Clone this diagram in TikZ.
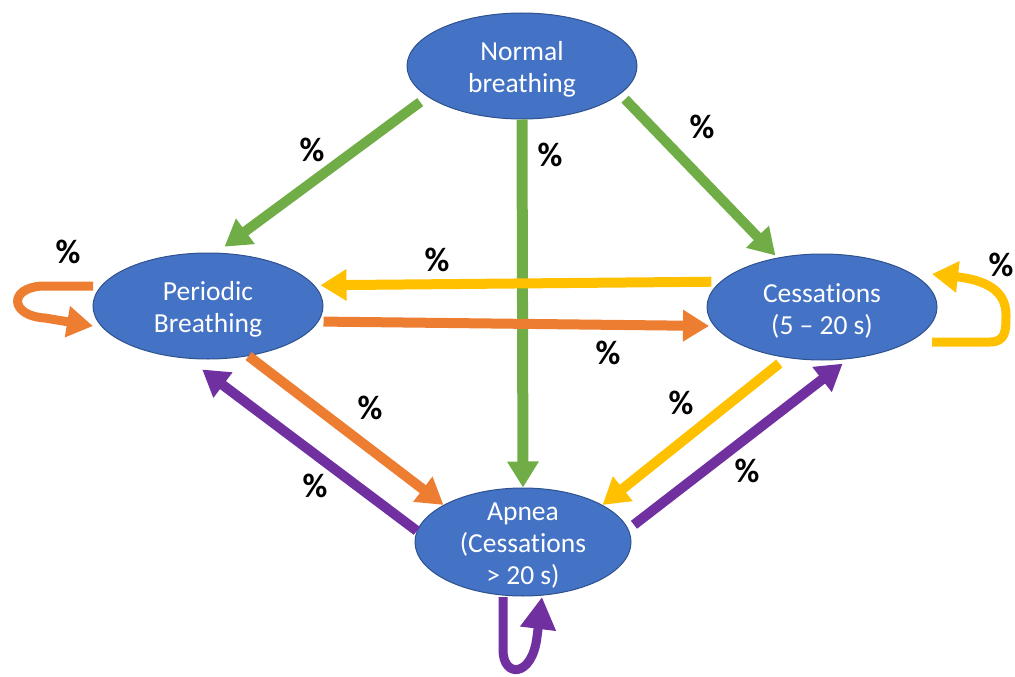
\documentclass[tikz,border=0pt]{standalone}
\usepackage{fontspec}
\setmainfont{Carlito}[Ligatures=NoCommon]
\usetikzlibrary{arrows.meta,shapes.geometric,calc}
\definecolor{stateblue}{HTML}{4472C4}
\definecolor{stateedge}{HTML}{2F528F}
\definecolor{flowgreen}{HTML}{70AD47}
\definecolor{floworange}{HTML}{ED7D31}
\definecolor{flowyellow}{HTML}{FFC000}
\definecolor{flowpurple}{HTML}{7030A0}
\begin{document}
\begin{tikzpicture}[x=1pt,y=-1pt,
  state/.style={ellipse, fill=stateblue, draw=stateedge, line width=1pt,
    inner sep=0pt, minimum width=230pt, minimum height=106pt},
  statetext/.style={text=white, align=center, inner sep=0pt, yshift=-3.5pt,
    font=\fontsize{27.5}{32}\selectfont},
  flow/.style={line width=10pt, -{Triangle[length=26pt,width=30pt]}},
  loopflow/.style={line width=9pt, line join=round, -{Triangle[length=26pt,width=30pt]}},
  pct/.style={font=\bfseries\fontsize{34}{34}\selectfont, inner sep=0pt}
]
\useasboundingbox (0,0) rectangle (1015,677);

% states
\node[state, label={[statetext]center:Normal\\breathing}] (nb) at (522,66) {};
\node[state, label={[statetext]center:Periodic\\Breathing}] (pb) at (208,306) {};
\node[state, label={[statetext]center:Cessations\\(5 -- 20 s)}] (cs) at (822,307) {};
\node[state, minimum width=216pt, minimum height=108pt,
  label={[statetext]center:Apnea\\(Cessations\\> 20 s)}] (ap) at (523,542) {};

% transitions out of normal breathing
\draw[flow, flowgreen, shorten <=9pt, shorten >=10pt] (nb.198.8) -- (pb.81);
\draw[flow, flowgreen, line width=11pt] (nb.south) -- (ap.north);
\draw[flow, flowgreen, shorten <=7pt, shorten >=3pt] (nb.-16.8) -- (cs.132.6);

% periodic breathing <-> cessations
\draw[flow, flowyellow, shorten <=9pt, shorten >=6pt] (cs.166.9) -- (pb.11.2);
\draw[flow, floworange, shorten <=5pt, shorten >=5pt] (pb.-8.3) -- (cs.190);

% periodic breathing <-> apnea
\draw[flow, floworange] (pb.-51) -- (ap.155);
\draw[flow, flowpurple, shorten >=18pt] (ap.174) -- (pb.249);

% cessations <-> apnea
\draw[flow, flowyellow, shorten <=9pt] (cs.235.3) -- (ap.25);
\draw[flow, flowpurple, shorten <=7pt, shorten >=7.5pt] (ap.7.5) -- (cs.297.7);

% self transitions
\draw[loopflow, floworange]
  ($(pb)+(-115,-20)$) -- ($(pb)+(-166,-20)$)
  .. controls ($(pb)+(-200,-18)$) and ($(pb)+(-198,10)$) .. ($(pb)+(-163,12)$)
  -- ($(pb)+(-115,20)$);
\draw[loopflow, flowyellow]
  ($(cs)+(110,35)$) -- ($(cs)+(168,35)$)
  .. controls ($(cs)+(184,35)$) and ($(cs)+(184,23)$) .. ($(cs)+(184,8)$)
  .. controls ($(cs)+(184,-17)$) and ($(cs)+(163,-27)$) .. ($(cs)+(110,-33)$);
\draw[loopflow, flowpurple, -{Triangle[length=32pt,width=34pt]}]
  ($(ap)+(-20,55)$) -- ($(ap)+(-20,108)$)
  .. controls ($(ap)+(-20,136)$) and ($(ap)+(9,136)$) .. ($(ap)+(14,95)$)
  -- ($(ap)+(19,55)$);

% transition probabilities
\node[pct] (p1) at (312,150) {\%};
\node[pct] (p2) at (550,155) {\%};
\node[pct] (p3) at (702,127) {\%};
\node[pct] (p4) at (68,252) {\%};
\node[pct] (p5) at (437,260) {\%};
\node[pct] (p6) at (1001,265) {\%};
\node[pct] (p7) at (608,353) {\%};
\node[pct] (p8) at (370,408) {\%};
\node[pct] (p9) at (315,486) {\%};
\node[pct] (p10) at (681,403) {\%};
\node[pct] (p11) at (747,471) {\%};
\end{tikzpicture}
\end{document}
